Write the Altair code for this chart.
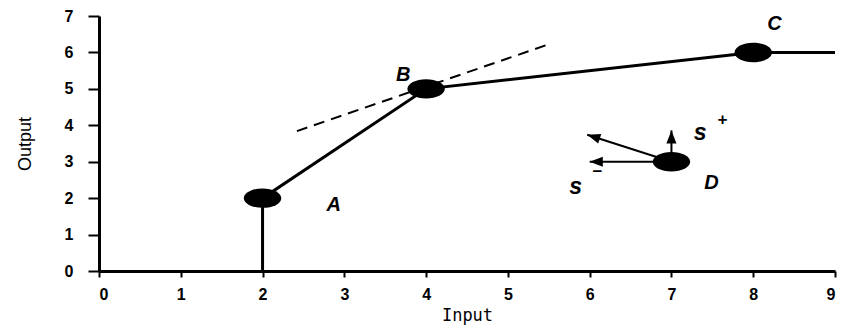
import altair as alt
import pandas as pd
import numpy as np

# Frontier (piecewise linear)
frontier_x = [2, 2, 4, 8, 9]
frontier_y = [0, 2, 5, 6, 6]

# Named points
point_names = ["A", "B", "C", "D"]
point_x = [2, 4, 8, 7]
point_y = [2, 5, 6, 3]

# Supporting (dashed) line through B
dash_x = [2.42, 5.52]
dash_y = [3.84, 6.24]

# Slack arrows from D
arrow_x0 = [7, 7, 7]
arrow_y0 = [3, 3, 3]
arrow_x1 = [7, 6.0, 5.97]
arrow_y1 = [3.86, 3.0, 3.74]

# Text labels
label_text = ["A", "B", "C", "D", "s", "+", "s", "\u2212"]
label_x = [2.87, 3.72, 8.26, 7.49, 7.35, 7.62, 5.83, 6.09]
label_y = [1.8, 5.38, 6.78, 2.42, 3.8, 4.14, 2.3, 2.72]
label_size = [20, 20, 20, 20, 23, 17, 23, 17]

W, H = 736, 255
XMAX, YMAX = 9, 7

xs = alt.Scale(domain=[0, XMAX], nice=False, zero=True)
ys = alt.Scale(domain=[0, YMAX], nice=False, zero=True)
xaxis = alt.Axis(title="Input", values=list(range(0, XMAX + 1)), format="d", labelOverlap=False)
yaxis = alt.Axis(title="Output", values=list(range(0, YMAX + 1)), format="d", labelOverlap=False)


def X(f):
    return alt.X(f, scale=xs, axis=xaxis, title="Input")


def Y(f):
    return alt.Y(f, scale=ys, axis=yaxis, title="Output")


front = pd.DataFrame({"x": frontier_x, "y": frontier_y, "o": range(len(frontier_x))})
pts = pd.DataFrame({"name": point_names, "x": point_x, "y": point_y})
dash = pd.DataFrame({"x": dash_x, "y": dash_y})

ax0 = np.array(arrow_x0, float); ay0 = np.array(arrow_y0, float)
ax1 = np.array(arrow_x1, float); ay1 = np.array(arrow_y1, float)
dxp = (ax1 - ax0) * W / XMAX
dyp = -(ay1 - ay0) * H / YMAX
ang = (np.degrees(np.arctan2(dxp, -dyp)) + 360) % 360
arrows = pd.DataFrame({"x": ax0, "y": ay0, "x2": ax1, "y2": ay1, "angle": ang})
labels = pd.DataFrame({"t": label_text, "x": label_x, "y": label_y, "s": label_size})

line = alt.Chart(front).mark_line(color="black", strokeWidth=3).encode(
    x=X("x:Q"), y=Y("y:Q"), order="o:Q")

dashed = alt.Chart(dash).mark_line(color="black", strokeWidth=2, strokeDash=[11, 7]).encode(
    x=X("x:Q"), y=Y("y:Q"))

rules = alt.Chart(arrows).mark_rule(color="black", strokeWidth=2).encode(
    x=X("x:Q"), y=Y("y:Q"), x2="x2:Q", y2="y2:Q")

heads = alt.Chart(arrows).mark_point(
    shape="M0,0 L-0.65,1.7 L0.65,1.7 Z", filled=True, color="black", opacity=1, size=240
).encode(x=X("x2:Q"), y=Y("y2:Q"), angle=alt.Angle("angle:Q", scale=None))

dots = alt.Chart(pts).mark_point(
    shape="M-1,0 A1,0.52 0 1,0 1,0 A1,0.52 0 1,0 -1,0 Z",
    filled=True, color="black", opacity=1, size=1400
).encode(x=X("x:Q"), y=Y("y:Q"))

texts = alt.Chart(labels).mark_text(
    font="Liberation Sans", fontStyle="italic", fontWeight="bold", color="black"
).encode(x=X("x:Q"), y=Y("y:Q"), text="t:N",
         size=alt.Size("s:Q", scale=None, legend=None))

chart = alt.layer(line, dashed, rules, heads, dots, texts).properties(
    width=W, height=H,
    autosize=alt.AutoSizeParams(type="none"),
    padding={"left": 91, "top": 8, "right": 6, "bottom": 55},
).configure_view(stroke=None).configure_axis(
    grid=False, domainColor="black", domainWidth=3, tickColor="black", tickWidth=2,
    labelFont="Liberation Sans", labelFontWeight="bold", labelFontSize=16,
    labelColor="black", titleColor="black", titleFontWeight="normal",
).configure_axisX(
    tickSize=6, labelPadding=9, titleFont="DejaVu Sans Mono", titleFontSize=17, titlePadding=5,
).configure_axisY(
    tickSize=11, labelPadding=15, titleFont="Liberation Sans",
    titleFontSize=18, titlePadding=30,
)

chart.save("out.html", embed_options={"renderer": "svg", "actions": False})
